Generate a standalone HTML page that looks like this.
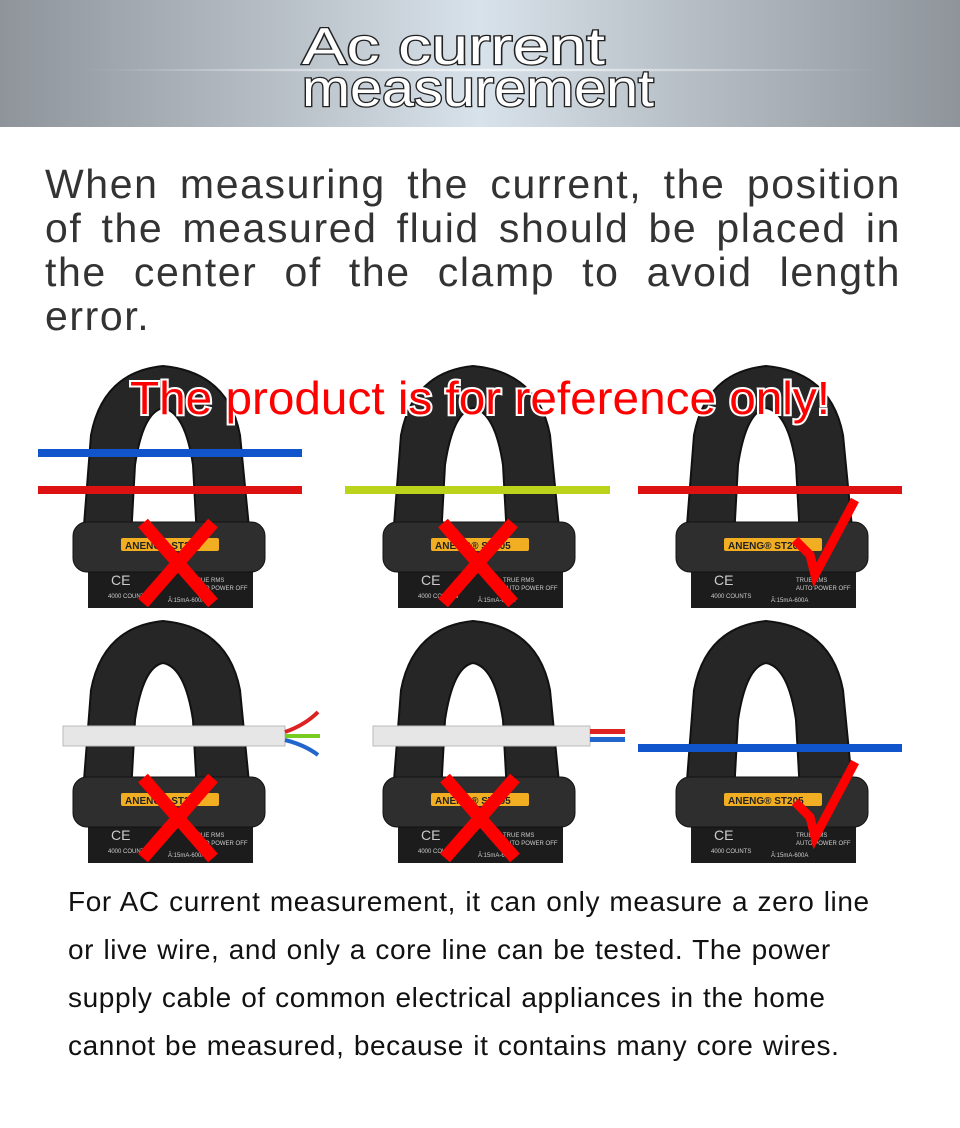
<!DOCTYPE html>
<html><head><meta charset="utf-8"><style>
body{margin:0;width:960px;height:1128px;background:#fff;position:relative;overflow:hidden;font-family:"Liberation Sans",sans-serif}
.hdr{position:absolute;left:0;top:0;width:960px;height:127px;background:linear-gradient(90deg,#8e949a 0%,#b9c1c8 30%,#d8e2ea 50%,#b9c1c8 70%,#8e949a 100%)}
.hdr:after{content:"";position:absolute;left:0;top:68px;width:960px;height:4px;background:radial-gradient(ellipse at center,rgba(255,255,255,.9),rgba(255,255,255,0) 60%)}
.p1{position:absolute;left:45px;top:162px;width:856px;font-size:41px;line-height:44px;color:#333;letter-spacing:1.6px}
.p1 div{text-align:justify;text-align-last:justify;height:44px}
.p1 div.l{text-align-last:left}
.p2{position:absolute;left:68px;top:878px;width:890px;font-size:28px;line-height:48px;color:#111;letter-spacing:0.6px;word-spacing:1px}
</style></head><body>
<div class="hdr"></div>
<svg width="960" height="1128" style="position:absolute;left:0;top:0">
<defs>
<g id="clamp">
<path fill-rule="evenodd" fill="#262626" stroke="#111" stroke-width="2" d="M20,178 L28,75 Q40,12 100,6 Q165,12 177,75 L187,178 Z M68,178 L72,105 Q80,52 100,48 Q122,52 130,105 L134,178 Z"/>
<rect x="25" y="200" width="165" height="48" fill="#1c1c1c"/>
<rect x="10" y="162" width="192" height="50" rx="14" fill="#2e2e2e" stroke="#111"/>
<rect x="58" y="178" width="98" height="13" rx="2" fill="#f2ae22"/>
<text x="62" y="189" font-size="10" font-weight="bold" fill="#222">ANENG® ST205</text>
<text x="48" y="225" font-size="14" fill="#ccc">CE</text>
<text x="45" y="238" font-size="6" fill="#ccc">4000 COUNTS</text>
<text x="130" y="222" font-size="6" fill="#ccc">TRUE RMS</text>
<text x="130" y="230" font-size="6" fill="#ccc">AUTO POWER OFF</text>
<text x="105" y="242" font-size="6" fill="#ccc">Ā:15mA-600A</text>
</g>
<g id="xm"><path d="M-35,-40 L35,40 M35,-40 L-35,40" stroke="#f00" stroke-width="13"/></g>
<g id="ck"><path d="M-25,10 L-10,25 L-5,45 L35,-30" stroke="#f00" stroke-width="9" fill="none"/></g>
</defs>
<use href="#clamp" x="63" y="360"/>
<use href="#clamp" x="373" y="360"/>
<use href="#clamp" x="666" y="360"/>
<use href="#clamp" x="63" y="615"/>
<use href="#clamp" x="373" y="615"/>
<use href="#clamp" x="666" y="615"/>
<rect x="38" y="449" width="264" height="8" fill="#1155cc"/>
<rect x="38" y="486" width="264" height="8" fill="#dd1111"/>
<rect x="345" y="486" width="265" height="8" fill="#bcd31c"/>
<rect x="638" y="486" width="264" height="8" fill="#dd1111"/>
<rect x="638" y="744" width="264" height="8" fill="#1155cc"/>
<rect x="63" y="726" width="222" height="20" fill="#e6e6e6" stroke="#bbb"/>
<path d="M285,732 Q305,725 318,712" stroke-width="4" fill="none" stroke="#d22"/>
<path d="M285,736 L320,736" stroke="#7c2" stroke-width="4"/>
<path d="M285,740 Q305,745 318,755" stroke="#26c" stroke-width="4" fill="none"/>
<rect x="373" y="726" width="217" height="20" fill="#e6e6e6" stroke="#bbb"/>
<rect x="590" y="729" width="35" height="5" fill="#d22"/>
<rect x="590" y="737" width="35" height="5" fill="#26c"/>
<use href="#xm" x="178" y="563"/>
<use href="#xm" x="478" y="563"/>
<use href="#xm" x="178" y="818"/>
<use href="#xm" x="480" y="818"/>
<use href="#ck" x="820" y="530"/>
<use href="#ck" x="820" y="792"/>
<text x="302" y="64" font-size="52" fill="#fff" stroke="#222" stroke-width="2.5" paint-order="stroke" textLength="303" lengthAdjust="spacingAndGlyphs">Ac current</text>
<text x="302" y="106" font-size="52" fill="#fff" stroke="#222" stroke-width="2.5" paint-order="stroke" textLength="352" lengthAdjust="spacingAndGlyphs">measurement</text>
<text x="130" y="414" font-size="46" fill="#f00" stroke="#fff" stroke-width="4" paint-order="stroke" textLength="700" lengthAdjust="spacingAndGlyphs">The product is for reference only!</text>
</svg>
<div class="p1"><div>When measuring the current, the position</div><div>of the measured fluid should be placed in</div><div>the center of the clamp to avoid length</div><div class="l">error.</div></div>
<div class="p2">For AC current measurement, it can only measure a zero line<br>or live wire, and only a core line can be tested. The power<br>supply cable of common electrical appliances in the home<br>cannot be measured, because it contains many core wires.</div>
</body></html>
